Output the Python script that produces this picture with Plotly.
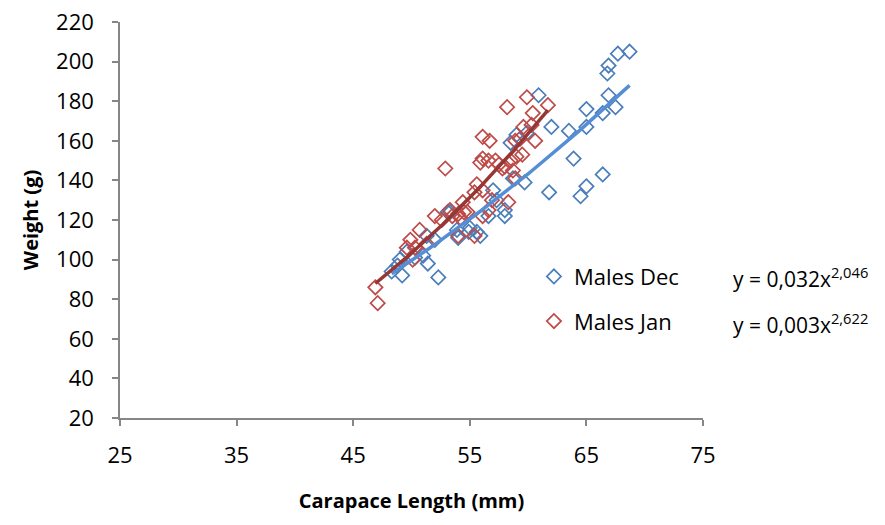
import numpy as np
import plotly.graph_objects as go

# Males Dec (blue)
dec_x = [68.7, 67.7, 66.9, 66.8, 66.9, 65.0, 67.5, 66.4, 63.5, 65.0, 62.0, 60.9,
         63.9, 66.4, 65.0, 64.5, 61.8,
         59.0, 59.9, 58.5, 57.0, 59.7, 58.7, 58.0, 58.0, 56.6, 55.0, 54.9, 55.6,
         55.9, 53.9, 53.3, 54.0, 57.3,
         52.3, 49.2, 51.4, 48.3, 48.8, 49.6, 51.3, 51.0, 50.3, 49.0, 53.1, 52.0]
dec_y = [205, 204, 198, 194, 183, 176, 177, 174, 165, 167, 167, 183,
         151, 143, 137, 132, 134,
         163, 164, 159, 135, 139, 141, 125, 122, 122, 116, 114, 114,
         112, 115, 124, 111, 130,
         91, 92, 98, 94, 97, 104, 112, 102, 101, 100, 124, 110]

# Males Jan (red)
jan_x = [59.9, 58.2, 61.7, 56.1, 56.7, 60.4, 60.3, 60.6, 59.6, 52.9, 56.1, 56.6,
         57.2, 58.5, 59.0, 59.5, 58.9, 58.0, 58.9, 57.5, 55.9, 55.6, 55.4, 56.1,
         54.4, 54.5, 54.0, 53.3, 52.0, 58.3, 56.6, 56.1, 54.0, 55.4, 46.9, 47.1,
         49.9, 50.7, 50.3, 50.1, 52.6, 54.2, 54.8, 56.9, 51.3, 49.6, 53.5, 58.7,
         59.3, 57.8]
jan_y = [182, 177, 178, 162, 160, 174, 168, 160, 167, 146, 151, 150,
         150, 150, 152, 153, 160, 147, 141, 148, 149, 138, 134, 135,
         129, 124, 123, 125, 122, 129, 125, 122, 112, 112, 86, 78,
         110, 115, 106, 100, 120, 121, 124, 130, 108, 106, 122, 145,
         161, 146]

dec_label = "Males Dec"
jan_label = "Males Jan"
dec_eq = "y = 0,032x<sup>2,046</sup>"
jan_eq = "y = 0,003x<sup>2,622</sup>"

x_ticks = [25, 35, 45, 55, 65, 75]
y_ticks = [20, 40, 60, 80, 100, 120, 140, 160, 180, 200, 220]

BLUE = "#4A7EBB"
RED = "#BE4B48"
BLUE_LINE = "#558ED5"
RED_LINE = "#953735"


def power_fit(xs, ys):
    lx, ly = np.log(xs), np.log(ys)
    b, la = np.polyfit(lx, ly, 1)
    xx = np.linspace(min(xs), max(xs), 60)
    return xx, np.exp(la) * xx ** b


fig = go.Figure()
fig.add_trace(go.Scatter(x=dec_x, y=dec_y, mode="markers", name=dec_label,
                         legendgroup="a",
                         marker=dict(symbol="diamond-open", size=11, color=BLUE,
                                     line=dict(width=1.7, color=BLUE))))
fig.add_trace(go.Scatter(x=jan_x, y=jan_y, mode="markers", name=jan_label,
                         legendgroup="b",
                         marker=dict(symbol="diamond-open", size=11, color=RED,
                                     line=dict(width=1.7, color=RED))))
tx, ty = power_fit(dec_x, dec_y)
fig.add_trace(go.Scatter(x=tx, y=ty, mode="lines", showlegend=False,
                         line=dict(color=BLUE_LINE, width=3.5)))
tx, ty = power_fit(jan_x, jan_y)
fig.add_trace(go.Scatter(x=tx, y=ty, mode="lines", showlegend=False,
                         line=dict(color=RED_LINE, width=3.5)))

axis_common = dict(showgrid=False, zeroline=False, showline=True, automargin=False,
                   linecolor="#868686", linewidth=1.5, ticks="outside",
                   tickcolor="#868686", ticklen=6, tickwidth=1.5,
                   tickfont=dict(size=22, color="#000000"))

fig.update_layout(
    width=885, height=525,
    margin=dict(l=120, r=182, t=22, b=107),
    paper_bgcolor="white", plot_bgcolor="white",
    font=dict(family="Open Sans", size=20, color="#000000"),
    showlegend=True,
    legend=dict(x=0.71, y=0.41, xanchor="left", yanchor="top",
                bgcolor="rgba(0,0,0,0)", tracegroupgap=13, itemwidth=30,
                font=dict(size=22)),
    xaxis=dict(range=[25, 75], tickvals=x_ticks, ticktext=[str(v) for v in x_ticks],
               ticklabelstandoff=11,
               title=dict(text="<b>Carapace Length (mm)</b>", font=dict(size=20), standoff=26),
               **axis_common),
    yaxis=dict(range=[20, 220], tickvals=y_ticks, ticktext=[str(v) for v in y_ticks],
               ticklabelstandoff=14,
               title=dict(text="<b>Weight (g)</b>", font=dict(size=20), standoff=12),
               **axis_common),
    annotations=[
        dict(text=dec_eq, xref="paper", yref="paper", x=(731 - 120) / 583, y=(418 - 277) / 396,
             xanchor="left", yanchor="middle", showarrow=False, font=dict(size=21)),
        dict(text=jan_eq, xref="paper", yref="paper", x=(731 - 120) / 583, y=(418 - 323) / 396,
             xanchor="left", yanchor="middle", showarrow=False, font=dict(size=21)),
    ],
)

fig.write_html("out.html")
